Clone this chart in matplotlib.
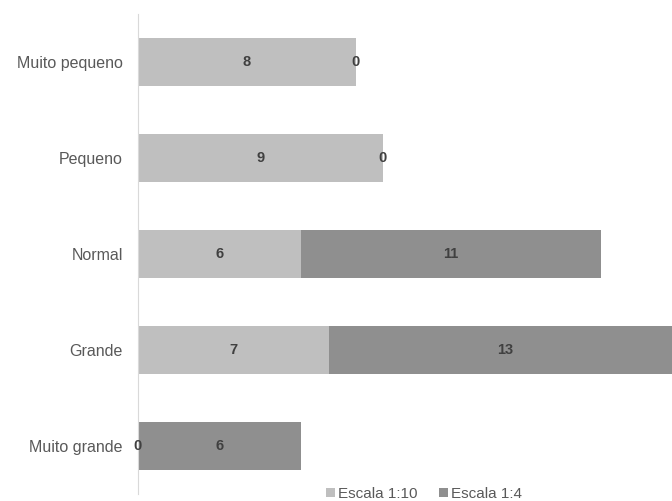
import matplotlib
matplotlib.use('Agg')
import matplotlib.pyplot as plt
import numpy as np

plt.rcParams['font.family'] = ['Liberation Sans', 'DejaVu Sans']

categories = ['Muito pequeno', 'Pequeno', 'Normal', 'Grande', 'Muito grande']
escala_10 = [8, 9, 6, 7, 0]
escala_4 = [0, 0, 11, 13, 6]

C_LIGHT = '#bfbfbf'
C_DARK = '#8f8f8f'

fig = plt.figure(figsize=(6.72, 5.01), dpi=100)
ax = fig.add_axes([138/672, 7/501, (672-138)/672, 480/501])

y = np.arange(len(categories))
b1 = ax.barh(y, escala_10, height=0.51, color=C_LIGHT, label='Escala 1:10')
b2 = ax.barh(y, escala_4, left=escala_10, height=0.51, color=C_DARK, label='Escala 1:4')

for bars in (b1, b2):
    for r in bars:
        cx = r.get_x() + r.get_width() / 2
        cy = r.get_y() + r.get_height() / 2
        ax.text(cx, cy, str(int(r.get_width())), ha='center', va='center',
                fontsize=10.5, fontweight='bold', color='#404040')

ax.set_yticks(y)
ax.set_yticklabels(categories, fontsize=11.5, color='#595959')
ax.set_ylim(4.5, -0.5)
ax.set_xlim(0, (672-138)/27.22)
ax.set_xticks([])
ax.tick_params(axis='y', length=0, pad=11)
for s in ['top', 'right', 'bottom']:
    ax.spines[s].set_visible(False)
ax.spines['left'].set_color('#d9d9d9')

fig.legend(handles=[b1, b2], loc='center', bbox_to_anchor=(424/672, 1 - 494/501),
           ncol=2, frameon=False, fontsize=11, handlelength=0.6, handleheight=0.6,
           handletextpad=0.2, columnspacing=1.4, labelcolor='#595959')

fig.savefig('out.png', dpi=100)
